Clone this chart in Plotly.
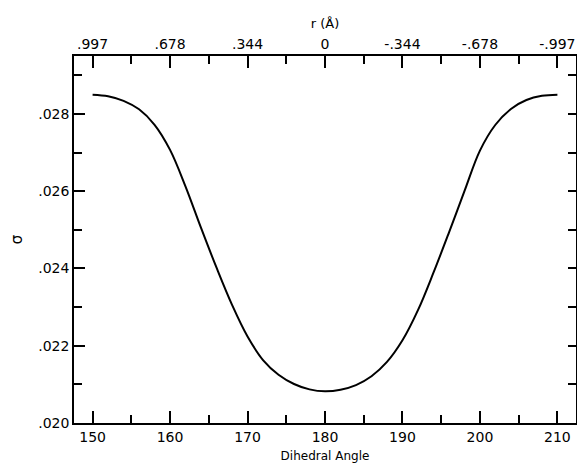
import plotly.graph_objects as go

# Data
angle = [150, 152, 154, 156, 158, 160, 162, 164, 166, 168, 170, 172, 174, 176, 178, 180,
         182, 184, 186, 188, 190, 192, 194, 196, 198, 200, 202, 204, 206, 208, 210]
sigma = [0.02850, 0.02846, 0.02834, 0.02812, 0.02772, 0.02707, 0.02612, 0.02505, 0.02402,
         0.02306, 0.02224, 0.02163, 0.02125, 0.02101, 0.02087, 0.02082, 0.02086, 0.02098,
         0.02121, 0.02158, 0.02214, 0.02292, 0.02389, 0.02493, 0.02600, 0.02705, 0.02772,
         0.02813, 0.02836, 0.02847, 0.02850]

x_ticks = [150, 160, 170, 180, 190, 200, 210]
x_minor = [155, 165, 175, 185, 195, 205]
r_labels = [".997", ".678", ".344", "0", "-.344", "-.678", "-.997"]
y_ticks = [0.020, 0.022, 0.024, 0.026, 0.028]
y_labels = [".020", ".022", ".024", ".026", ".028"]
y_minor = [0.021, 0.023, 0.025, 0.027, 0.029]
y_right = [0.020, 0.021, 0.022, 0.023, 0.024, 0.025, 0.026, 0.027, 0.028, 0.029]

x_range = [147.6, 212.4]
y_range = [0.020, 0.0295]

FONT = "DejaVu Sans"

fig = go.Figure()
fig.add_trace(go.Scatter(x=angle, y=sigma, mode="lines",
                         line=dict(color="black", width=2, shape="spline", smoothing=1.0),
                         showlegend=False, hoverinfo="skip"))
fig.add_trace(go.Scatter(x=[None], y=[None], xaxis="x2", yaxis="y2", mode="lines",
                         showlegend=False, hoverinfo="skip"))

common = dict(showgrid=False, zeroline=False, showline=True, linecolor="black", linewidth=1.5,
              ticks="inside", tickcolor="black", tickwidth=1.5)

fig.update_layout(
    width=577, height=469,
    margin=dict(l=74, r=1, t=56, b=46),
    paper_bgcolor="white", plot_bgcolor="white",
    font=dict(family=FONT, size=14, color="black"),
    xaxis=dict(range=x_range, tickmode="array", tickvals=x_ticks, ticklen=12,
               minor=dict(tickmode="array", tickvals=x_minor, ticks="inside", ticklen=8,
                          tickcolor="black", tickwidth=1.5),
               title=dict(text="Dihedral Angle", font=dict(size=12), standoff=8),
               tickfont=dict(size=14), **common),
    yaxis=dict(range=y_range, tickmode="array", tickvals=y_ticks, ticktext=y_labels, ticklen=11,
               minor=dict(tickmode="array", tickvals=y_minor, ticks="inside", ticklen=8,
                          tickcolor="black", tickwidth=1.5),
               title=dict(text="σ", font=dict(size=15), standoff=12),
               tickfont=dict(size=14), **common),
    xaxis2=dict(range=x_range, overlaying="x", side="top", tickmode="array", tickvals=x_ticks,
                ticktext=r_labels, ticklen=12,
                minor=dict(tickmode="array", tickvals=x_minor, ticks="inside", ticklen=8,
                           tickcolor="black", tickwidth=1.5),
                title=dict(text="r (Å)", font=dict(size=13), standoff=4),
                tickfont=dict(size=14), **common),
    yaxis2=dict(range=y_range, overlaying="y", side="right", tickmode="array", tickvals=y_right,
                showticklabels=False, ticklen=8, **common),
)

fig.write_html("out.html")
